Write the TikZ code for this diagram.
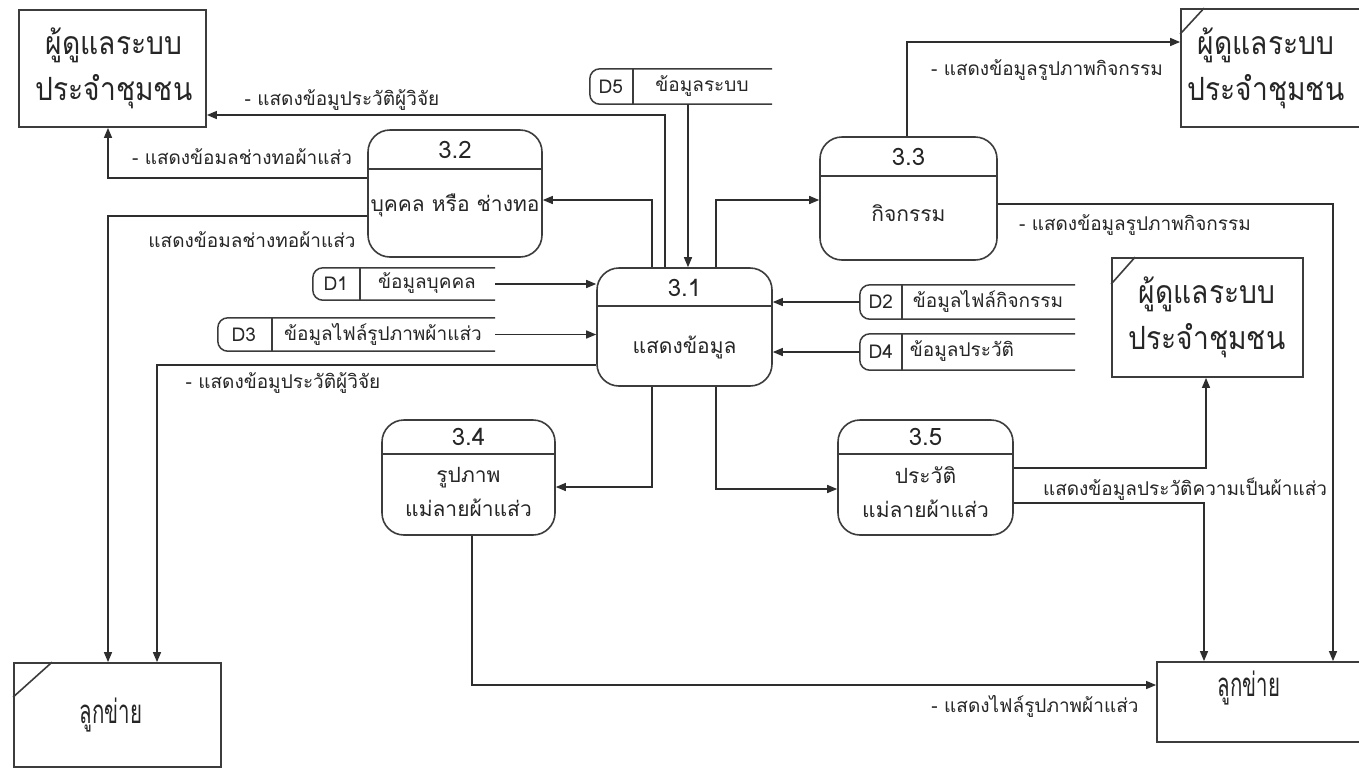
\documentclass[tikz,border=0pt]{standalone}
\usepackage{fontspec}
\setmainfont[Script=Thai]{Loma}
\newfontfamily\entfont[Script=Thai,FakeStretch=0.88]{Loma}
\newfontfamily\cliefont[Script=Thai,FakeStretch=0.62]{Loma}
\usetikzlibrary{arrows.meta,calc}
\definecolor{boxc}{HTML}{3C3C3C}
\definecolor{linec}{HTML}{2E2E2E}
\definecolor{txtc}{HTML}{262626}
\begin{document}
\begin{tikzpicture}[x=1pt,y=-1pt,
  box/.style={draw=boxc, line width=1.8pt, inner sep=0pt},
  proc/.style={draw=boxc, line width=1.6pt, rounded corners=22pt, inner sep=0pt},
  hdr/.style={draw=boxc, line width=1.6pt},
  stline/.style={draw=boxc, line width=1.5pt},
  stnode/.style={inner sep=0pt},
  flow/.style={draw=linec, line width=1.4pt, -{Triangle[length=10pt,width=8pt]}},
  lbl/.style={font=\fontsize{19}{22}\selectfont, text=txtc, inner sep=1pt},
  enttxt/.style={font=\entfont\fontsize{32}{46}\selectfont, text=txtc, align=center, inner sep=0pt},
  clitxt/.style={font=\cliefont\fontsize{33}{36}\selectfont, text=txtc, align=center, inner sep=0pt},
  numtxt/.style={font=\fontsize{24}{26}\selectfont, text=txtc, inner sep=0pt},
  proctxt/.style={font=\fontsize{21}{34}\selectfont, text=txtc, align=center, inner sep=0pt},
  sttxt/.style={font=\fontsize{19}{22}\selectfont, text=txtc, inner sep=0pt},
]
\useasboundingbox (0,0) rectangle (1359,769);
\fill[white] (0,0) rectangle (1359,769);

% ---------- external entities ----------
\node[box, minimum width=187pt, minimum height=117pt] (e1) at (112.5,68.5) {};
\node[enttxt] (e1t) at (114,68) {ผู้ดูแลระบบ\\ประจำชุมชน};

\node[box, minimum width=191pt, minimum height=118pt] (e2) at (1276.5,68) {};
\draw[hdr] ($(e2.north west)+(0,26)$) -- ($(e2.north west)+(24,0)$);
\node[enttxt] (e2t) at (1266,68) {ผู้ดูแลระบบ\\ประจำชุมชน};

\node[box, minimum width=191pt, minimum height=119pt] (e3) at (1207.5,317.5) {};
\draw[hdr] ($(e3.north west)+(0,27)$) -- ($(e3.north west)+(24,0)$);
\node[enttxt] (e3t) at (1207,317) {ผู้ดูแลระบบ\\ประจำชุมชน};

\node[box, minimum width=207pt, minimum height=104pt] (e4) at (117.5,715) {};
\draw[hdr] ($(e4.north west)+(0,35)$) -- ($(e4.north west)+(39,0)$);
\node[clitxt] (e4t) at (111,715) {ลูกข่าย};

\node[box, minimum width=215pt, minimum height=80pt] (e5) at (1264.5,702) {};
\node[clitxt] (e5t) at (1249,688) {ลูกข่าย};

% ---------- processes ----------
\node[proc, minimum width=175pt, minimum height=118pt] (p31) at (684.5,327) {};
\draw[hdr] ($(p31.north west)+(0,39)$) -- ($(p31.north east)+(0,39)$);
\node[numtxt] (p31n) at (684.5,288) {3.1};
\node[proctxt] (p31b) at (684.5,347) {แสดงข้อมูล};

\node[proc, minimum width=174pt, minimum height=127pt] (p32) at (455,193.5) {};
\draw[hdr] ($(p32.north west)+(0,40)$) -- ($(p32.north east)+(0,40)$);
\node[numtxt] (p32n) at (455,150) {3.2};
\node[proctxt] (p32b) at (455,205) {บุคคล หรือ ช่างทอ};

\node[proc, minimum width=177pt, minimum height=123pt] (p33) at (908.5,198.5) {};
\draw[hdr] ($(p33.north west)+(0,40)$) -- ($(p33.north east)+(0,40)$);
\node[numtxt] (p33n) at (908.5,157) {3.3};
\node[proctxt] (p33b) at (908.5,213) {กิจกรรม};

\node[proc, minimum width=173pt, minimum height=115pt] (p34) at (468.5,477.5) {};
\draw[hdr] ($(p34.north west)+(0,35)$) -- ($(p34.north east)+(0,35)$);
\node[numtxt] (p34n) at (468.5,437) {3.4};
\node[proctxt] (p34b) at (468.5,492) {รูปภาพ\\แม่ลายผ้าแส่ว};

\node[proc, minimum width=175pt, minimum height=115pt] (p35) at (925.5,477.5) {};
\draw[hdr] ($(p35.north west)+(0,35)$) -- ($(p35.north east)+(0,35)$);
\node[numtxt] (p35n) at (925.5,437) {3.5};
\node[proctxt] (p35b) at (925.5,492) {ประวัติ\\แม่ลายผ้าแส่ว};

% ---------- data stores ----------
\node[stnode, minimum width=182pt, minimum height=35pt] (d5) at (681,86.5) {};
\draw[stline, rounded corners=10pt] (d5.north east) -- (d5.north west) -- (d5.south west) -- (d5.south east);
\draw[stline] ($(d5.north west)+(43,0)$) -- ($(d5.south west)+(43,0)$);
\node[sttxt] (d5a) at ($(d5.west)+(21,0)$) {D5};
\node[sttxt] (d5b) at (702,86) {ข้อมูลระบบ};

\node[stnode, minimum width=182pt, minimum height=32pt] (d1) at (404,284) {};
\draw[stline, rounded corners=10pt] (d1.north east) -- (d1.north west) -- (d1.south west) -- (d1.south east);
\draw[stline] ($(d1.north west)+(47,0)$) -- ($(d1.south west)+(47,0)$);
\node[sttxt] (d1a) at ($(d1.west)+(23,0)$) {D1};
\node[sttxt] (d1b) at (427,283) {ข้อมูลบุคคล};

\node[stnode, minimum width=277pt, minimum height=33pt] (d3) at (356.5,334.5) {};
\draw[stline, rounded corners=10pt] (d3.north east) -- (d3.north west) -- (d3.south west) -- (d3.south east);
\draw[stline] ($(d3.north west)+(54,0)$) -- ($(d3.south west)+(54,0)$);
\node[sttxt] (d3a) at ($(d3.west)+(26,0)$) {D3};
\node[sttxt] (d3b) at (383,334) {ข้อมูลไฟล์รูปภาพผ้าแส่ว};

\node[stnode, minimum width=215pt, minimum height=34pt] (d2) at (967.5,302) {};
\draw[stline, rounded corners=10pt] (d2.north east) -- (d2.north west) -- (d2.south west) -- (d2.south east);
\draw[stline] ($(d2.north west)+(42,0)$) -- ($(d2.south west)+(42,0)$);
\node[sttxt] (d2a) at ($(d2.west)+(21,0)$) {D2};
\node[sttxt] (d2b) at (988,301) {ข้อมูลไฟล์กิจกรรม};

\node[stnode, minimum width=215pt, minimum height=36pt] (d4) at (967.5,352) {};
\draw[stline, rounded corners=10pt] (d4.north east) -- (d4.north west) -- (d4.south west) -- (d4.south east);
\draw[stline] ($(d4.north west)+(42,0)$) -- ($(d4.south west)+(42,0)$);
\node[sttxt] (d4a) at ($(d4.west)+(21,0)$) {D4};
\node[sttxt] (d4b) at (962,351) {ข้อมูลประวัติ};

% ---------- flows ----------
\draw[flow] ($(p31.north)+(-19.5,0)$) |- ($(e1.east)+(0,46.5)$);
\draw[flow] ($(p31.north)+(-32.5,0)$) |- ($(p32.east)+(0,6.5)$);
\draw[flow] ($(d5.south)+(7,0)$) -- ($(p31.north)+(3.5,0)$);
\draw[flow] ($(p31.north)+(31.5,0)$) |- ($(p33.west)+(0,1.5)$);
\draw[flow] ($(p32.west)+(0,-15.5)$) -| ($(e1.south)+(-4.5,0)$);
\draw[flow] ($(p32.west)+(0,22.5)$) -| ($(e4.north)+(-9.5,0)$);
\draw[flow] (d1.east) -- (d1.east -| p31.west);
\draw[flow] (d3.east) -- (d3.east -| p31.west);
\draw[flow] ($(p31.west)+(0,38)$) -| ($(e4.north)+(39.5,0)$);
\draw[flow] (d2.west) -- (d2.west -| p31.east);
\draw[flow] (d4.west) -- (d4.west -| p31.east);
\draw[flow] ($(p33.north)+(-1.5,0)$) |- ($(e2.west)+(0,-26)$);
\draw[flow] ($(p33.east)+(0,5.5)$) -| ($(e5.north)+(68.5,0)$);
\draw[flow] ($(p31.south)+(-32.5,0)$) |- ($(p34.east)+(0,9.5)$);
\draw[flow] ($(p31.south)+(31.5,0)$) |- ($(p35.west)+(0,11.5)$);
\draw[flow] ($(p35.east)+(0,-9.5)$) -| ($(e3.south)+(-1.5,0)$);
\draw[flow] ($(p35.east)+(0,25.5)$) -| ($(e5.north)+(-60.5,0)$);
\draw[flow] ($(p34.south)+(3.5,0)$) |- ($(e5.west)+(0,-17)$);

% ---------- flow labels ----------
\node[lbl] (l1) at (342,100) {- แสดงข้อมูประวัติผู้วิจัย};
\node[lbl] (l2) at (242,157) {- แสดงข้อมลช่างทอผ้าแส่ว};
\node[lbl] (l3) at (252,240) {แสดงข้อมลช่างทอผ้าแส่ว};
\node[lbl] (l4) at (283,383) {- แสดงข้อมูประวัติผู้วิจัย};
\node[lbl] (l5) at (1047,70) {- แสดงข้อมูลรูปภาพกิจกรรม};
\node[lbl] (l6) at (1135,225) {- แสดงข้อมูลรูปภาพกิจกรรม};
\node[lbl] (l7) at (1185,489) {แสดงข้อมูลประวัติความเป็นผ้าแส่ว};
\node[lbl] (l8) at (1035,706) {- แสดงไฟล์รูปภาพผ้าแส่ว};
\end{tikzpicture}
\end{document}
